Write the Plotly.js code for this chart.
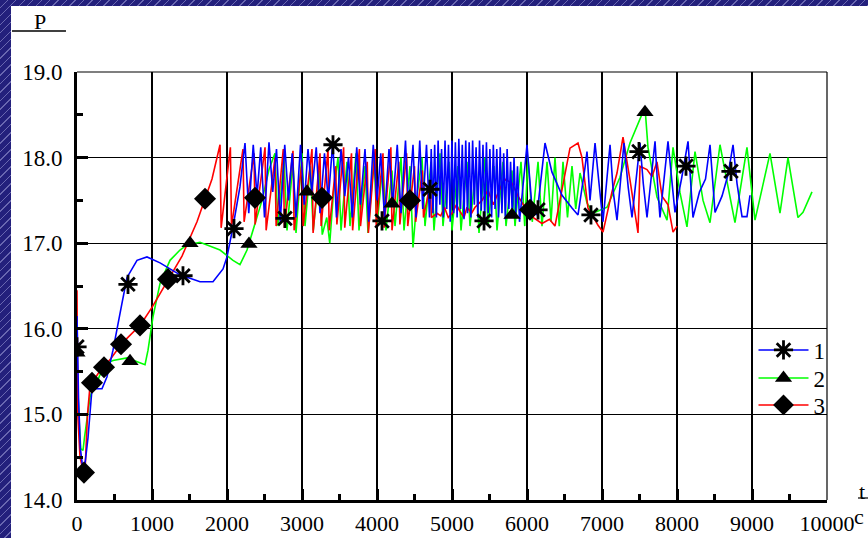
<!DOCTYPE html>
<html>
<head>
<meta charset="utf-8">
<script src="https://cdn.plot.ly/plotly-3.0.1.min.js"></script>
<style>
html,body{margin:0;padding:0;}
body{width:868px;height:538px;overflow:hidden;position:relative;
background:#23207c;
background-image:repeating-linear-gradient(135deg, rgba(255,255,255,0) 0px, rgba(255,255,255,0) 5px, rgba(190,190,240,0.45) 5px, rgba(190,190,240,0.45) 6px);}
#sheet{position:absolute;left:11px;top:6px;width:857px;height:532px;background:#fff;}
#chart{position:absolute;left:0;top:0;width:868px;height:538px;}
</style>
</head>
<body>
<div id="sheet"></div>
<div id="chart"></div>
<script>
// ---- Series 1 (blue) ----
const blueEarlyX = [0,5,20,45,80,110,147,200,267,333,400,480,600,667,800,933,1107,1373,1640,1813,1947,2000,2080,2173,2240];
const blueEarlyY = [16.15,15.7,15.2,14.6,14.35,14.45,14.73,15.3,15.3,15.3,15.44,15.75,16.3,16.6,16.8,16.84,16.77,16.63,16.55,16.55,16.7,16.84,17.19,17.66,18.17];
const blueMidX = [2290,2350,2400,2450,2500,2560,2610,2660,2710,2770,2820,2870,2920,2980,3030,3080,3130,3190,3240,3300,3350,3410,3460,3520,3570,3620,3670,3730,3780,3840,3890,3950,4000,4050,4100,4160,4210,4270,4320,4380,4420,4480,4520,4570,4610,4660,4700];
const blueMidY = [17.35,18.15,17.55,18.12,17.3,18.18,17.6,18.1,17.25,18.15,17.5,18.05,17.3,18.15,17.45,18.1,17.6,18.12,17.35,18.05,17.5,18.18,17.3,18.1,17.55,18.0,17.3,18.12,17.45,18.1,17.25,18.15,17.5,18.05,17.3,18.1,17.45,18.15,17.35,18.2,17.4,18.15,17.3,18.2,17.4,18.15,17.3];
const blueDenseX = [4723,4746,4769,4792,4815,4838,4861,4884,4907,4930,4953,4976,4999,5022,5045,5068,5091,5114,5137,5160,5183,5206,5229,5252,5275,5298,5321,5344,5367,5390,5413,5436,5459,5482,5505,5528,5551,5574,5597,5620,5643,5666,5689,5712,5735,5758,5781,5804,5827,5850,5873,5900];
const blueDenseY = [18.1,17.35,18.15,17.3,18.2,17.45,18.1,17.3,18.2,17.4,18.15,17.25,18.2,17.35,18.18,17.3,18.22,17.4,18.15,17.28,18.2,17.35,18.18,17.3,18.2,17.45,18.12,17.3,18.2,17.38,18.15,17.28,18.18,17.35,18.1,17.3,18.15,17.4,18.1,17.3,18.12,17.35,18.05,17.28,18.1,17.4,17.95,17.3,18.0,17.35,17.9,17.25];
const blueLateX = [6000,6067,6133,6240,6333,6467,6600,6680,6773,6800,6840,6907,6960,7013,7107,7150,7200,7293,7350,7400,7507,7550,7600,7707,7740,7773,7880,7930,7973,8060,8147,8213,8300,8380,8440,8507,8600,8680,8747,8800,8867,8933,8973];
const blueLateY = [18.15,17.41,17.33,18.17,17.83,17.56,17.41,17.33,17.88,18.07,17.5,18.17,17.7,17.25,18.15,17.6,17.27,18.17,17.65,17.3,18.17,17.7,17.3,18.19,17.7,17.3,18.19,17.75,17.36,17.75,18.19,17.3,17.6,17.75,18.15,17.36,17.55,17.8,18.15,17.7,17.31,17.31,17.56];

// ---- Series 2 (green) ----
const greenEarlyX = [0,10,30,50,80,100,173,213,267,300,400,480,667,907,947,1013,1107,1240,1373,1467,1640,1907,2080,2173,2267,2373,2467,2560,2640];
const greenEarlyY = [15.8,15.3,14.9,14.6,14.58,14.73,15.2,15.3,15.37,15.45,15.6,15.63,15.66,15.58,15.75,16.14,16.53,16.8,16.92,16.98,17.01,16.92,16.8,16.75,16.92,17.24,17.5,17.86,18.05];
const greenMidX = [2680,2760,2800,2880,2920,3000,3040,3110,3150,3230,3270,3330,3370,3420,3480,3520,3600,3640,3720,3760,3840,3880,3960,4000,4080,4120,4200,4240,4320,4360,4440,4480,4540,4600,4640,4720,4760,4840,4880,4960,5000,5080,5120,5200,5240,5320,5360,5440,5480,5560,5600,5680,5720,5800,5840];
const greenMidY = [17.2,18.0,17.15,17.95,17.12,18.05,17.2,17.9,17.15,17.85,17.1,17.3,17.0,17.6,18.0,17.15,17.95,17.2,18.05,17.15,17.9,17.12,18.0,17.2,17.95,17.15,17.85,17.2,18.0,17.15,17.9,16.95,17.6,18.0,17.2,17.95,17.15,18.05,17.2,17.95,17.15,17.9,17.15,17.95,17.2,17.9,17.12,18.0,17.2,17.9,17.15,17.95,17.2,17.85,17.2];
const greenLateX = [5920,5970,6013,6070,6147,6200,6267,6320,6373,6430,6480,6540,6600,6650,6707,6800,6880,7067,7240,7373,7480,7573,7613,7733,7867,7947,8040,8133,8240,8347,8440,8573,8680,8773,8933,9040,9240,9373,9480,9613,9680,9800];
const greenLateY = [17.95,17.2,18.0,17.25,17.95,17.2,17.95,17.25,18.0,17.2,17.95,17.3,17.9,17.4,17.82,17.47,17.35,17.42,17.77,18.17,18.4,18.59,18.12,17.54,17.27,18.12,17.59,17.19,18.07,17.5,17.24,18.15,17.66,17.24,18.12,17.27,18.05,17.35,18.0,17.3,17.36,17.6];

// ---- Series 3 (red) ----
const redEarlyX = [0,10,40,80,110,140,170,200,300,450,600,850,1000,1200,1400,1600,1800,1907];
const redEarlyY = [16.45,15.0,14.5,14.35,14.4,15.0,15.3,15.37,15.5,15.65,15.83,16.05,16.25,16.55,16.85,17.25,17.75,18.15];
const redMidX = [1922,2045,2060,2213,2228,2360,2375,2507,2522,2640,2655,2750,2765,2880,2895,3000,3015,3133,3148,3240,3255,3347,3362,3450,3465,3555,3570,3660,3675,3765,3780,3870,3885,3975,3990,4080,4095,4185,4200,4290,4305,4395,4410,4500,4515,4605,4620,4710,4725];
const redMidY = [17.18,18.12,17.2,18.1,17.25,18.05,17.22,18.12,17.15,18.0,17.2,18.1,17.18,18.08,17.15,17.95,17.2,18.1,17.12,18.05,17.2,18.1,17.15,17.9,17.22,18.12,17.18,18.05,17.15,18.1,17.2,17.95,17.12,18.1,17.2,18.05,17.18,18.12,17.15,17.95,17.22,18.05,17.2,17.9,17.25,17.85,17.3,17.7,17.3];
const redLateX = [4800,4850,4900,4950,5000,5060,5100,5160,5200,5260,5307,5400,5480,5550,5620,5700,5800,5880,5973,6080,6200,6300,6373,6467,6573,6680,6733,6813,6947,7013,7133,7200,7280,7373,7413,7480,7507,7600,7667,7733,7800,7880,7947,8000];
const redLateY = [17.35,17.32,17.42,17.3,17.35,17.45,17.38,17.3,17.42,17.35,17.42,17.5,17.62,17.45,17.6,17.75,17.7,17.55,17.42,17.3,17.23,17.28,17.2,17.64,18.11,18.17,18.0,17.41,17.21,17.13,17.6,17.82,18.24,17.74,17.5,17.12,17.9,17.86,17.78,17.95,17.55,17.45,17.13,17.2];

// ---- Marker positions ----
const mark1X = [0,680,1413,2093,2773,3413,4067,4707,5427,6147,6853,7493,8120,8720];
const mark1Y = [15.79,16.52,16.62,17.17,17.29,18.15,17.26,17.63,17.26,17.39,17.33,18.07,17.9,17.84];
const mark2X = [0,707,1507,2293,3067,4200,5800,7573];
const mark2Y = [15.72,15.62,17.0,16.99,17.6,17.46,17.33,18.53];
const mark3X = [93,200,360,587,840,1213,1707,2373,3267,4440,6040];
const mark3Y = [14.32,15.37,15.55,15.82,16.04,16.58,17.52,17.53,17.53,17.5,17.39];

const seriesNames = ['1','2','3'];
const seriesColors = ['#0000ff','#00ff00','#ff0000'];

const s1x = blueEarlyX.concat(blueMidX, blueDenseX, blueLateX);
const s1y = blueEarlyY.concat(blueMidY, blueDenseY, blueLateY);
const s2x = greenEarlyX.concat(greenMidX, greenLateX);
const s2y = greenEarlyY.concat(greenMidY, greenLateY);
const s3x = redEarlyX.concat(redMidX, redLateX);
const s3y = redEarlyY.concat(redMidY, redLateY);

const font = 'Liberation Serif, Times New Roman, serif';
const lw = 1.6;
const markerDefs = [
  {symbol:'asterisk-open', size:16, color:'black', line:{color:'black', width:2.8}},
  {symbol:'triangle-up', size:15, color:'black', line:{width:0}},
  {symbol:'diamond', size:17, color:'black', line:{width:0}}
];

const traces = [
  {x:s2x, y:s2y, mode:'lines', line:{color:seriesColors[1], width:lw}, showlegend:false, hoverinfo:'skip'},
  {x:s3x, y:s3y, mode:'lines', line:{color:seriesColors[2], width:lw}, showlegend:false, hoverinfo:'skip'},
  {x:s1x, y:s1y, mode:'lines', line:{color:seriesColors[0], width:lw}, showlegend:false, hoverinfo:'skip'},
  {x:mark1X, y:mark1Y, mode:'markers', marker:markerDefs[0], showlegend:false},
  {x:mark2X, y:mark2Y, mode:'markers', marker:markerDefs[1], showlegend:false},
  {x:mark3X, y:mark3Y, mode:'markers', marker:markerDefs[2], showlegend:false}
];
const legendIds = ['legend','legend2','legend3'];
for (let i=0;i<3;i++){
  traces.push({x:[null], y:[null], mode:'lines+markers', name:seriesNames[i], legend:legendIds[i],
    line:{color:seriesColors[i], width:lw}, marker:markerDefs[i], showlegend:true});
}

const axisCommon = {
  showline:true, linecolor:'black', linewidth:3,
  ticks:'inside', ticklen:11, tickwidth:3, tickcolor:'black',
  showgrid:true, gridcolor:'black', gridwidth:1.2,
  zeroline:false, fixedrange:true,
  tickfont:{family:font, size:23, color:'black'},
  minor:{ticks:'inside', ticklen:6, tickwidth:3, tickcolor:'black', showgrid:false}
};

const legendRowY = [0.3505, 0.285, 0.222];
function legendAt(yv){
  return {x:0.902, y:yv, xanchor:'left', yanchor:'middle', bgcolor:'rgba(0,0,0,0)',
    borderwidth:0, font:{family:font, size:23, color:'black'}, itemwidth:50};
}

const layout = {
  width:868, height:538,
  margin:{l:77, r:41, t:72, b:38},
  paper_bgcolor:'rgba(0,0,0,0)', plot_bgcolor:'#ffffff',
  showlegend:true,
  xaxis:Object.assign({}, axisCommon, {range:[0,10000], tick0:0, dtick:1000, tickformat:'d',
    tickfont:{family:font, size:22, color:'black'},
    minor:Object.assign({}, axisCommon.minor, {dtick:500}), ticklabelstandoff:2}),
  yaxis:Object.assign({}, axisCommon, {range:[14,19], tick0:14, dtick:1, tickformat:'.1f',
    minor:Object.assign({}, axisCommon.minor, {dtick:0.5}), ticklabelstandoff:7}),
  legend:legendAt(legendRowY[0]),
  legend2:legendAt(legendRowY[1]),
  legend3:legendAt(legendRowY[2]),
  shapes:[
    {type:'line', xref:'paper', yref:'paper', x0:0, x1:1, y0:1, y1:1, line:{color:'black', width:1.2}},
    {type:'line', xref:'paper', yref:'paper', x0:1, x1:1, y0:0, y1:1, line:{color:'black', width:1.2}},
    {type:'line', xref:'paper', yref:'paper', x0:-0.0867, x1:-0.0147, y0:1.0958, y1:1.0958, line:{color:'black', width:1.5}},
    {type:'line', xref:'paper', yref:'paper', x0:1.0413, x1:1.0547, y0:0.0047, y1:0.0047, line:{color:'black', width:1.2}}
  ],
  annotations:[
    {text:'P', xref:'paper', yref:'paper', x:-0.0493, y:1.119, xanchor:'center', yanchor:'middle', showarrow:false, font:{family:font, size:22, color:'black'}},
    {text:'t', xref:'paper', yref:'paper', x:1.0467, y:0.021, xanchor:'center', yanchor:'middle', showarrow:false, font:{family:font, size:22, color:'black'}},
    {text:'c', xref:'paper', yref:'paper', x:1.0433, y:-0.0397, xanchor:'center', yanchor:'middle', showarrow:false, font:{family:font, size:22, color:'black'}}
  ]
};

Plotly.newPlot('chart', traces, layout, {displayModeBar:false, staticPlot:true});
</script>
</body>
</html>
